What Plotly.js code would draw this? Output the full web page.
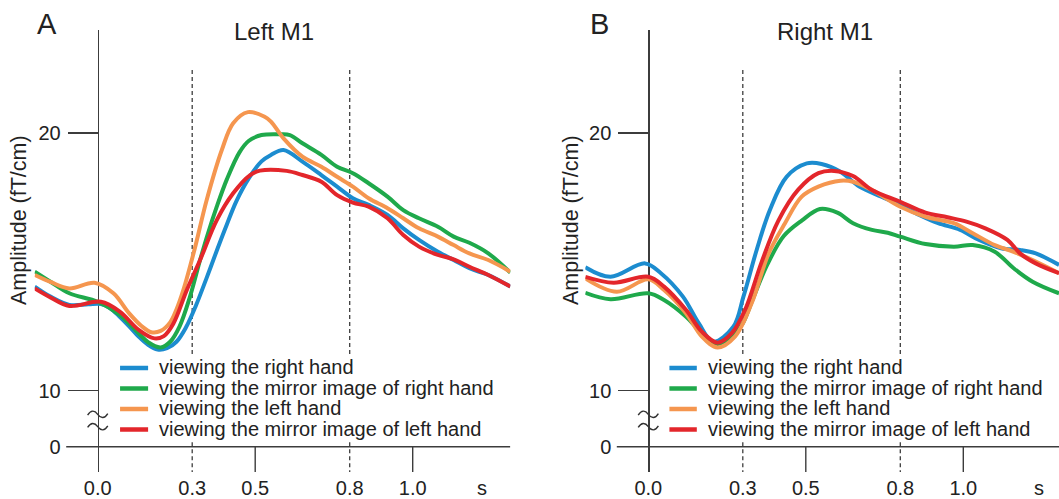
<!DOCTYPE html>
<html>
<head>
<meta charset="utf-8">
<script src="https://cdn.plot.ly/plotly-3.0.1.min.js"></script>
<style>html,body{margin:0;padding:0;background:#fff;}#chart{width:1059px;height:499px;}</style>
</head>
<body>
<div id="chart"></div>
<script>
// ---------- data (time in s, amplitude in fT/cm) ----------
const seriesNames = ["viewing the right hand", "viewing the mirror image of right hand", "viewing the left hand", "viewing the mirror image of left hand"];
const seriesColors = ["#1c8ccf", "#1fa94b", "#f5964f", "#e3262b"];

// Panel A: Left M1
const leftBlueT   = [-0.2, -0.15, -0.09, -0.03, 0.01, 0.04, 0.07, 0.1, 0.13, 0.16, 0.19, 0.22, 0.25, 0.28, 0.31, 0.345, 0.38, 0.41, 0.44, 0.48, 0.52, 0.55, 0.59, 0.65, 0.71, 0.76, 0.81, 0.86, 0.92, 0.97, 1.02, 1.08, 1.13, 1.18, 1.24, 1.31];
const leftBlueAmp = [14.04, 13.65, 13.33, 13.35, 13.36, 13.20, 12.87, 12.50, 12.10, 11.78, 11.60, 11.65, 11.90, 12.45, 13.25, 14.35, 15.50, 16.45, 17.35, 18.25, 18.90, 19.15, 19.34, 18.89, 18.37, 17.92, 17.47, 17.21, 16.82, 16.30, 15.85, 15.39, 15.07, 14.75, 14.49, 14.04];
const leftGreenT   = [-0.2, -0.15, -0.09, 0.0, 0.07, 0.13, 0.16, 0.2, 0.23, 0.26, 0.293, 0.325, 0.35, 0.378, 0.41, 0.45, 0.48, 0.52, 0.58, 0.61, 0.65, 0.71, 0.76, 0.81, 0.86, 0.92, 0.97, 1.02, 1.08, 1.13, 1.18, 1.24, 1.31];
const leftGreenAmp = [14.62, 14.23, 13.78, 13.45, 12.94, 12.23, 11.88, 11.68, 11.90, 12.50, 13.65, 15.07, 16.10, 17.14, 18.20, 19.25, 19.70, 19.92, 19.95, 19.92, 19.60, 19.15, 18.69, 18.44, 18.05, 17.53, 17.01, 16.69, 16.36, 15.98, 15.74, 15.33, 14.58];
const leftOrangeT   = [-0.2, -0.15, -0.09, -0.01, 0.05, 0.1, 0.14, 0.17, 0.2, 0.23, 0.25, 0.272, 0.307, 0.346, 0.394, 0.43, 0.477, 0.53, 0.55, 0.59, 0.65, 0.71, 0.76, 0.81, 0.86, 0.92, 0.97, 1.02, 1.08, 1.13, 1.18, 1.24, 1.31];
const leftOrangeAmp = [14.49, 14.22, 13.97, 14.19, 13.78, 13.00, 12.50, 12.27, 12.32, 12.65, 13.15, 13.91, 15.46, 17.40, 19.34, 20.38, 20.81, 20.63, 20.44, 19.79, 19.08, 18.69, 18.30, 17.92, 17.47, 17.08, 16.69, 16.30, 15.98, 15.65, 15.33, 15.07, 14.62];
const leftRedT   = [-0.2, -0.15, -0.09, 0.01, 0.07, 0.13, 0.18, 0.21, 0.24, 0.283, 0.325, 0.378, 0.43, 0.484, 0.515, 0.6, 0.65, 0.71, 0.76, 0.81, 0.86, 0.92, 0.97, 1.02, 1.08, 1.13, 1.18, 1.24, 1.31];
const leftRedAmp = [13.97, 13.62, 13.29, 13.45, 13.07, 12.36, 12.03, 12.12, 12.60, 13.91, 15.07, 16.62, 17.66, 18.37, 18.54, 18.53, 18.37, 18.11, 17.59, 17.30, 17.14, 16.69, 16.04, 15.59, 15.27, 15.10, 14.81, 14.49, 14.04];

// Panel B: Right M1
const rightBlueT   = [-0.2, -0.12, -0.01, 0.04, 0.11, 0.16, 0.206, 0.27, 0.302, 0.344, 0.386, 0.439, 0.503, 0.55, 0.61, 0.67, 0.74, 0.8, 0.86, 0.92, 0.99, 1.05, 1.12, 1.18, 1.23, 1.304];
const rightBlueAmp = [14.79, 14.42, 14.94, 14.56, 13.65, 12.62, 11.90, 12.48, 13.65, 15.46, 17.01, 18.30, 18.82, 18.80, 18.50, 17.92, 17.53, 17.21, 16.82, 16.50, 16.24, 15.85, 15.53, 15.46, 15.33, 14.88];
const rightGreenT   = [-0.2, -0.12, 0.0, 0.05, 0.12, 0.17, 0.22, 0.275, 0.3, 0.33, 0.378, 0.43, 0.487, 0.545, 0.6, 0.65, 0.71, 0.76, 0.8, 0.88, 0.97, 1.03, 1.1, 1.16, 1.22, 1.304];
const rightGreenAmp = [13.80, 13.55, 13.78, 13.52, 12.87, 12.23, 11.81, 12.23, 12.62, 13.50, 14.90, 16.00, 16.60, 17.05, 16.91, 16.50, 16.24, 16.13, 15.98, 15.69, 15.59, 15.65, 15.39, 14.75, 14.23, 13.78];
const rightOrangeT   = [-0.2, -0.1, 0.0, 0.05, 0.12, 0.17, 0.22, 0.275, 0.328, 0.381, 0.434, 0.487, 0.54, 0.61, 0.65, 0.71, 0.8, 0.88, 0.97, 1.03, 1.1, 1.16, 1.22, 1.304];
const rightOrangeAmp = [14.36, 13.84, 14.32, 13.91, 13.00, 12.10, 11.68, 12.10, 13.39, 15.30, 16.50, 17.53, 17.92, 18.15, 18.11, 17.79, 17.14, 16.75, 16.50, 16.11, 15.65, 15.39, 15.07, 14.56];
const rightRedT   = [-0.2, -0.11, 0.0, 0.05, 0.12, 0.17, 0.22, 0.265, 0.307, 0.36, 0.413, 0.476, 0.54, 0.59, 0.65, 0.71, 0.8, 0.88, 0.95, 1.01, 1.07, 1.14, 1.18, 1.23, 1.304];
const rightRedAmp = [14.42, 14.19, 14.42, 14.04, 13.13, 12.29, 11.86, 12.23, 13.13, 15.00, 16.60, 17.80, 18.44, 18.53, 18.33, 17.79, 17.33, 16.91, 16.73, 16.56, 16.30, 15.85, 15.33, 14.94, 14.56];

const xTickVals = [0, 0.3, 0.5, 0.8, 1.0];
const xTickText = ["0.0", "0.3", "0.5", "0.8", "1.0"];
const yTickText = ["0", "10", "20"];
const panelTitles = ["Left M1", "Right M1"];
const panelLetters = ["A", "B"];
const yTitle = "Amplitude (fT/cm)";

// ---------- layout constants ----------
const FONT = "Liberation Sans, Arial, Helvetica, sans-serif";
const AX = "#3c3c3c";
const Y_LO = 6.845, Y_HI = 23.997;   // y range over the axis line extent
const Y_ZERO = 7.827;                // where the broken axis shows "0"
const Y_TOP_DASH = 22.445;

const panels = [
  {T:[leftBlueT,leftGreenT,leftOrangeT,leftRedT], A:[leftBlueAmp,leftGreenAmp,leftOrangeAmp,leftRedAmp],
   xa:"x", ya:"y", xdom:[0.032767, 0.481917], xr:[-0.2, 1.31], ypos:0.09226, sPos:1.22,
   legX0:0.071, legX1:0.160, legTX:0.188, lineEnd:1.31, letterX:0.04438, titleX:0.01794},
  {T:[rightBlueT,rightGreenT,rightOrangeT,rightRedT], A:[rightBlueAmp,rightGreenAmp,rightOrangeAmp,rightRedAmp],
   xa:"x2", ya:"y2", xdom:[0.55269, 1.0], xr:[-0.2, 1.3038], ypos:0.61218, sPos:1.24,
   legX0:0.067, legX1:0.154, legTX:0.183, lineEnd:1.35, letterX:0.56657, titleX:0.53919}
];

const traces = [];
const shapes = [];
const annotations = [];
const layout = {
  width:1059, height:499, margin:{l:0,r:0,t:0,b:0},
  paper_bgcolor:"#fff", plot_bgcolor:"rgba(0,0,0,0)",
  showlegend:false, font:{family:FONT, color:"#222"},
  shapes:shapes, annotations:annotations
};

const legY = [10.881, 10.085, 9.290, 8.494];

panels.forEach((p, pi) => {
  const xk = pi === 0 ? "xaxis" : "xaxis2";
  const yk = pi === 0 ? "yaxis" : "yaxis2";
  layout[xk] = {
    domain:p.xdom, range:p.xr, anchor:p.ya, showline:false, showgrid:false, zeroline:false,
    ticks:"", tickvals:xTickVals.concat([p.sPos]), ticktext:xTickText.concat(["s"]),
    tickfont:{size:20, family:FONT, color:"#222"}, ticklabelstandoff:2, fixedrange:true
  };
  layout[yk] = {
    domain:[0.05411, 0.93988], range:[Y_LO, Y_HI], anchor:"free", position:p.ypos,
    showline:true, linecolor:AX, linewidth:1.4, showgrid:false, zeroline:false,
    ticks:"outside", ticklen:30, tickwidth:1.4, tickcolor:AX,
    tickvals:[Y_ZERO, 10, 20], ticktext:yTickText,
    tickfont:{size:20, family:FONT, color:"#222"}, ticklabelstandoff:3,
    layer:"below traces", fixedrange:true
  };

  // curves
  for (let s = 0; s < 4; s++) {
    traces.push({
      type:"scatter", mode:"lines", name:seriesNames[s], x:p.T[s], y:p.A[s],
      xaxis:p.xa, yaxis:p.ya, line:{color:seriesColors[s], width:4, shape:"spline", smoothing:1},
      hoverinfo:"skip", cliponaxis:false
    });
  }

  // x axis line at the "0" level
  shapes.push({type:"line", xref:p.xa, yref:p.ya, x0:-0.1, x1:p.lineEnd, y0:Y_ZERO, y1:Y_ZERO,
               line:{color:AX, width:1.4}, layer:"below"});
  // solid ticks at 0.5 and 1.0
  [0.5, 1.0].forEach(v => shapes.push({type:"line", xref:p.xa, yref:p.ya, x0:v, x1:v, y0:Y_ZERO, y1:Y_LO,
               line:{color:AX, width:1.4}, layer:"below"}));
  // dashed markers at 0.3 and 0.8
  [0.3, 0.8].forEach(v => {
    shapes.push({type:"line", xref:p.xa, yref:p.ya, x0:v, x1:v, y0:Y_TOP_DASH, y1:11.35,
                 line:{color:AX, width:1.3, dash:"4px,3px"}, layer:"below"});
    shapes.push({type:"line", xref:p.xa, yref:p.ya, x0:v, x1:v, y0:8.0, y1:Y_LO,
                 line:{color:AX, width:1.3, dash:"4px,3px"}, layer:"below"});
  });

  // legend (manual, tight line spacing)
  for (let s = 0; s < 4; s++) {
    shapes.push({type:"line", xref:p.xa, yref:p.ya, x0:p.legX0, x1:p.legX1, y0:legY[s], y1:legY[s],
                 line:{color:seriesColors[s], width:4.5}, layer:"above"});
    annotations.push({xref:p.xa, yref:p.ya, x:p.legTX, y:legY[s], text:seriesNames[s], showarrow:false,
                      xanchor:"left", yanchor:"middle", font:{size:20, family:FONT, color:"#222"}, yshift:1});
  }

  // axis break marks (two small waves drawn as paths)
  [9.084, 8.603].forEach(v => {
    const a = 0.17;
    shapes.push({type:"path", xref:p.xa, yref:p.ya,
      path:"M -0.032," + (v - 0.03) + " C -0.022," + (v + a) + " -0.01," + (v + a) + " 0," + v +
           " C 0.01," + (v - a) + " 0.022," + (v - a) + " 0.032," + (v + 0.03),
      line:{color:"#333", width:1.4}, layer:"above"});
  });

  // panel title
  annotations.push({xref:p.xa, yref:p.ya, x:0.56, y:23.95, text:panelTitles[pi], showarrow:false,
                    xanchor:"center", yanchor:"middle", font:{size:24, family:FONT, color:"#222"}});
  // panel letter
  annotations.push({xref:"paper", yref:"paper", x:p.letterX, y:0.951, text:panelLetters[pi], showarrow:false,
                    xanchor:"center", yanchor:"middle", font:{size:29, family:FONT, color:"#222"}});
  // y axis title
  annotations.push({xref:"paper", yref:"paper", x:p.titleX, y:0.5591, text:yTitle, showarrow:false,
                    textangle:-90, xanchor:"center", yanchor:"middle", font:{size:21.5, family:FONT, color:"#222"}});
});

Plotly.newPlot("chart", traces, layout, {displayModeBar:false, staticPlot:true});
</script>
</body>
</html>
